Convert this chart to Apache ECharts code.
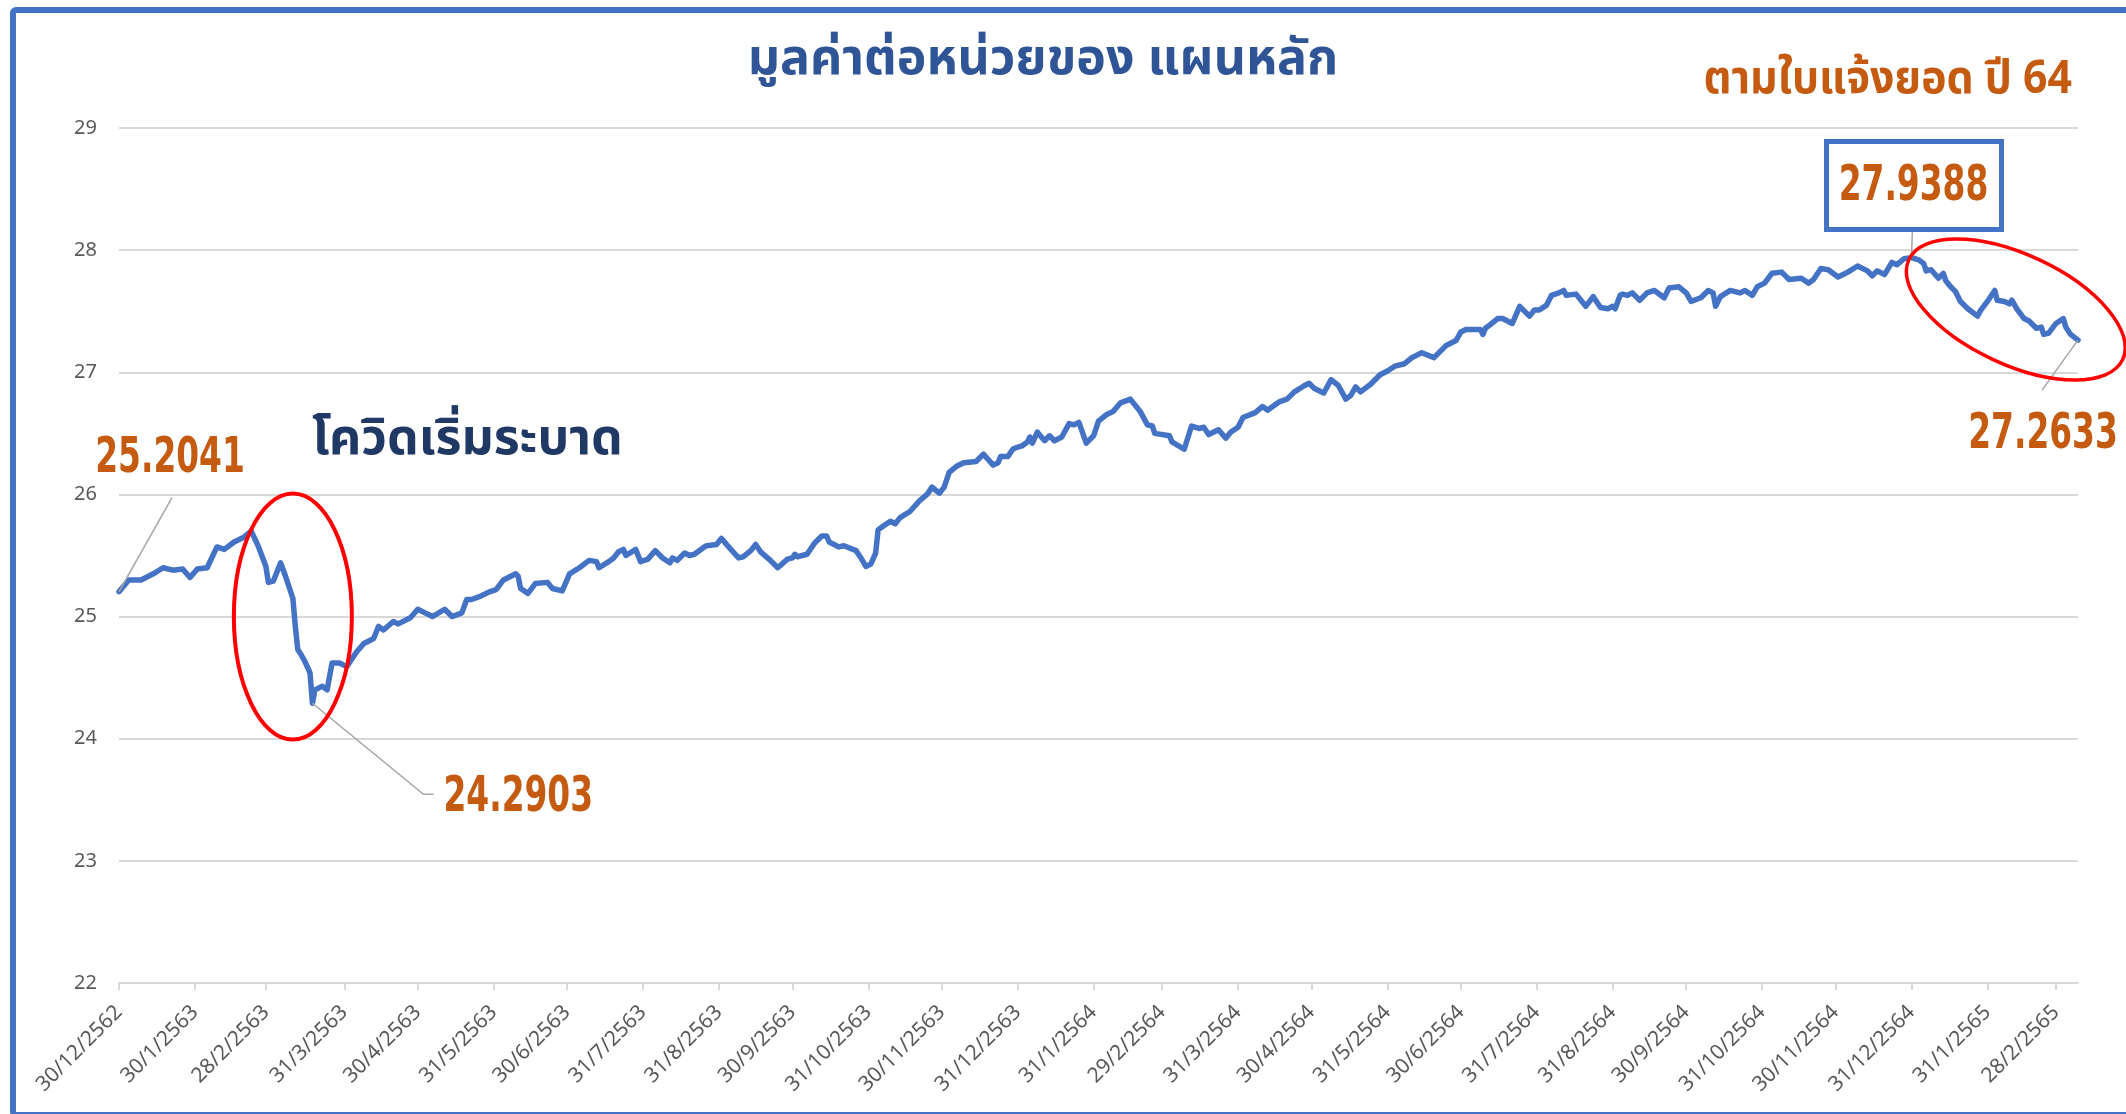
<!DOCTYPE html>
<html>
<head>
<meta charset="utf-8">
<title>มูลค่าต่อหน่วยของ แผนหลัก</title>
<script src="https://cdn.jsdelivr.net/npm/echarts@6.0.0/dist/echarts.min.js"></script>
<style>
  html, body { margin: 0; padding: 0; background: #fff; }
  #navChart { width: 2126px; height: 1114px; }
</style>
</head>
<body>
<div id="navChart"></div>
<script>
// x = days counted from 30/12/2562
var tickDays = [0, 31, 60, 92, 122, 153, 183, 214, 245, 275, 306, 336, 367, 398,
  426, 457, 487, 518, 548, 579, 610, 640, 671, 701, 732, 763, 791];
var tickLabels = ['30/12/2562', '30/1/2563', '28/2/2563', '31/3/2563', '30/4/2563', '31/5/2563',
  '30/6/2563', '31/7/2563', '31/8/2563', '30/9/2563', '31/10/2563', '30/11/2563', '31/12/2563',
  '31/1/2564', '29/2/2564', '31/3/2564', '30/4/2564', '31/5/2564', '30/6/2564', '31/7/2564',
  '31/8/2564', '30/9/2564', '31/10/2564', '30/11/2564', '31/12/2564', '31/1/2565', '28/2/2565'];

var dayOffsets = [
  0, 4, 9, 14, 18, 22, 26, 29, 32, 36,
  40, 43, 47, 51, 54, 57, 60, 61, 63, 66,
  68, 71, 72, 73, 74, 76, 78, 79, 80, 83,
  85, 87, 90, 93, 97, 100, 104, 106, 108, 112,
  114, 119, 122, 125, 128, 133, 136, 140, 142, 144,
  148, 151, 154, 157, 162, 163, 164, 167, 170, 175,
  177, 181, 184, 188, 192, 195, 196, 200, 202, 204,
  206, 207, 211, 213, 216, 219, 222, 225, 226, 228,
  231, 233, 235, 239, 240, 244, 246, 249, 253, 255,
  258, 260, 262, 266, 269, 273, 275, 276, 277, 281,
  284, 287, 289, 290, 294, 296, 301, 303, 305, 307,
  309, 310, 312, 315, 317, 319, 323, 327, 330, 332,
  335, 337, 339, 342, 345, 350, 353, 357, 359, 360,
  363, 365, 366, 369, 371, 372, 373, 375, 378, 380,
  382, 385, 388, 390, 392, 395, 398, 400, 403, 406,
  409, 413, 417, 420, 422, 423, 429, 430, 435, 438,
  441, 443, 445, 449, 452, 454, 457, 459, 464, 467,
  469, 474, 477, 480, 484, 486, 488, 492, 495, 498,
  501, 503, 505, 507, 511, 515, 518, 521, 525, 528,
  532, 537, 542, 546, 548, 550, 556, 557, 558, 560,
  563, 565, 569, 572, 576, 578, 580, 583, 585, 588,
  590, 591, 595, 599, 602, 605, 608, 610, 611, 613,
  614, 616, 618, 621, 624, 627, 631, 633, 637, 640,
  642, 646, 649, 651, 652, 654, 658, 662, 664, 667,
  669, 672, 675, 679, 682, 687, 690, 692, 695, 698,
  702, 706, 710, 714, 716, 718, 721, 724, 726, 729,
  732, 735, 737, 738, 740, 743, 745, 746, 748, 750,
  752, 755, 759, 760, 763, 766, 767, 770, 772, 773,
  775, 778, 780, 783, 785, 786, 788, 791, 794, 795,
  797, 800
];
var navValues = [
  25.204, 25.30, 25.30, 25.35, 25.40, 25.38, 25.39, 25.32, 25.39, 25.40,
  25.57, 25.55, 25.61, 25.65, 25.70, 25.57, 25.41, 25.28, 25.29, 25.44,
  25.33, 25.15, 24.92, 24.73, 24.70, 24.63, 24.54, 24.2903, 24.40, 24.43,
  24.40, 24.62, 24.62, 24.59, 24.71, 24.78, 24.82, 24.92, 24.89, 24.96,
  24.94, 24.99, 25.06, 25.03, 25.00, 25.06, 25.00, 25.03, 25.14, 25.14,
  25.17, 25.20, 25.22, 25.30, 25.35, 25.33, 25.23, 25.19, 25.27, 25.28,
  25.23, 25.21, 25.35, 25.40, 25.46, 25.45, 25.40, 25.45, 25.48, 25.53,
  25.55, 25.50, 25.55, 25.45, 25.47, 25.54, 25.48, 25.44, 25.48, 25.46,
  25.52, 25.50, 25.51, 25.57, 25.58, 25.59, 25.64, 25.57, 25.48, 25.49,
  25.54, 25.59, 25.53, 25.46, 25.40, 25.47, 25.48, 25.51, 25.49, 25.51,
  25.60, 25.66, 25.66, 25.61, 25.57, 25.58, 25.54, 25.48, 25.41, 25.43,
  25.52, 25.71, 25.74, 25.78, 25.76, 25.81, 25.86, 25.95, 26.00, 26.06,
  26.01, 26.06, 26.18, 26.23, 26.26, 26.27, 26.33, 26.24, 26.26, 26.31,
  26.31, 26.37, 26.38, 26.40, 26.43, 26.47, 26.42, 26.51, 26.44, 26.48,
  26.44, 26.47, 26.58, 26.57, 26.59, 26.42, 26.48, 26.60, 26.65, 26.68,
  26.75, 26.78, 26.68, 26.57, 26.56, 26.50, 26.48, 26.43, 26.37, 26.56,
  26.54, 26.55, 26.49, 26.53, 26.46, 26.51, 26.55, 26.63, 26.67, 26.72,
  26.69, 26.76, 26.78, 26.84, 26.89, 26.91, 26.87, 26.83, 26.94, 26.89,
  26.78, 26.81, 26.88, 26.84, 26.90, 26.98, 27.01, 27.05, 27.07, 27.12,
  27.16, 27.12, 27.22, 27.26, 27.33, 27.35, 27.35, 27.31, 27.36, 27.39,
  27.44, 27.44, 27.40, 27.54, 27.46, 27.51, 27.51, 27.55, 27.63, 27.65,
  27.67, 27.63, 27.64, 27.54, 27.62, 27.53, 27.52, 27.54, 27.52, 27.63,
  27.64, 27.63, 27.65, 27.59, 27.65, 27.67, 27.61, 27.69, 27.70, 27.65,
  27.58, 27.61, 27.67, 27.65, 27.54, 27.62, 27.67, 27.65, 27.67, 27.63,
  27.70, 27.73, 27.81, 27.82, 27.76, 27.77, 27.73, 27.76, 27.85, 27.84,
  27.78, 27.82, 27.87, 27.83, 27.79, 27.83, 27.80, 27.90, 27.88, 27.93,
  27.9388, 27.92, 27.89, 27.83, 27.84, 27.77, 27.81, 27.75, 27.70, 27.66,
  27.58, 27.52, 27.46, 27.50, 27.58, 27.67, 27.59, 27.58, 27.56, 27.59,
  27.52, 27.44, 27.42, 27.36, 27.37, 27.31, 27.32, 27.40, 27.44, 27.37,
  27.31, 27.2633
];

// start, covid low, peak, latest
var calloutDays = [0, 79, 732, 800];
var calloutValues = [25.2041, 24.2903, 27.9388, 27.2633];

var thaiFont = "'Noto Sans Thai', 'Noto Sans Thai UI', 'Noto Looped Thai', 'Garuda', 'Loma', 'Noto Sans', sans-serif";
var numFont = "'Liberation Sans Narrow', 'DejaVu Sans Condensed', 'Liberation Sans', sans-serif";
var axisFont = "'Noto Sans', 'Liberation Sans', sans-serif";

var chartDom = document.getElementById('navChart');
var navChart = echarts.init(chartDom, null, { renderer: 'canvas' });

var seriesData = dayOffsets.map(function (d, i) { return [d, navValues[i]]; });

var option = {
  animation: false,
  backgroundColor: '#ffffff',
  grid: { left: 119, right: 48, top: 128, bottom: 131, containLabel: false },
  xAxis: {
    type: 'value',
    min: 0,
    max: 800,
    splitLine: { show: false },
    axisLine: { show: true, lineStyle: { color: '#d9d9d9', width: 2 } },
    axisTick: {
      show: true,
      customValues: tickDays,
      length: 7,
      lineStyle: { color: '#d9d9d9', width: 2 }
    },
    axisLabel: {
      customValues: tickDays,
      rotate: 45,
      margin: 26,
      fontSize: 21,
      fontFamily: axisFont,
      color: '#595959',
      formatter: function (v) {
        var i = tickDays.indexOf(v);
        return i >= 0 ? tickLabels[i] : '';
      }
    }
  },
  yAxis: {
    type: 'value',
    min: 22,
    max: 29,
    interval: 1,
    axisLine: { show: false },
    axisTick: { show: false },
    splitLine: { lineStyle: { color: '#d9d9d9', width: 2 } },
    axisLabel: { fontSize: 20, fontFamily: axisFont, color: '#595959', margin: 22 }
  },
  series: [
    {
      name: 'มูลค่าต่อหน่วย',
      type: 'line',
      data: seriesData,
      showSymbol: false,
      symbol: 'none',
      lineStyle: { color: '#4472C4', width: 5.5, cap: 'round', join: 'round' },
      z: 3
    }
  ]
};

option && navChart.setOption(option);

function toPx(d, v) {
  return navChart.convertToPixel({ xAxisIndex: 0, yAxisIndex: 0 }, [d, v]);
}

function buildGraphics() {
  var items = [];
  var leaderStyle = { stroke: '#a6a6a6', lineWidth: 1.5, fill: null };
  // condensed bold figures like the original callouts
  var numText = function (x, y, txt, align) {
    return {
      type: 'text', x: x, y: y + 4, z: 20, scaleX: 0.745,
      style: {
        text: txt, fill: '#C55A11', font: 'bold 49px ' + numFont,
        align: align || 'center', verticalAlign: 'middle'
      }
    };
  };

  // outer frame
  items.push({
    type: 'rect', z: 30,
    shape: { x: 13, y: 10, width: 2200, height: 1105, r: 3 },
    style: { fill: null, stroke: '#4472C4', lineWidth: 6 }
  });

  // headings
  items.push({
    type: 'text', x: 1043, y: 64, z: 20,
    style: { text: 'มูลค่าต่อหน่วยของ แผนหลัก', fill: '#2F5597', font: 'bold 50px ' + thaiFont, align: 'center', verticalAlign: 'middle' }
  });
  items.push({
    type: 'text', x: 2072, y: 84, z: 20, scaleX: 0.93,
    style: { text: 'ตามใบแจ้งยอด ปี 64', fill: '#C55A11', font: 'bold 46px ' + thaiFont, align: 'right', verticalAlign: 'middle' }
  });
  items.push({
    type: 'text', x: 312, y: 444, z: 20,
    style: { text: 'โควิดเริ่มระบาด', fill: '#203864', font: 'bold 50px ' + thaiFont, align: 'left', verticalAlign: 'middle' }
  });

  // red circles
  var c1 = toPx(71, 25);
  items.push({
    type: 'ellipse', z: 15,
    shape: { cx: c1[0], cy: c1[1], rx: 59, ry: 123 },
    style: { fill: null, stroke: '#FF0000', lineWidth: 4 }
  });
  var c2 = toPx(774.6, 27.514);
  items.push({
    type: 'ellipse', z: 15, x: c2[0], y: c2[1], rotation: -25 * Math.PI / 180,
    shape: { cx: 0, cy: 0, rx: 118, ry: 55 },
    style: { fill: null, stroke: '#FF0000', lineWidth: 3.5 }
  });

  var p0 = toPx(calloutDays[0], calloutValues[0]);
  var p1 = toPx(calloutDays[1], calloutValues[1]);
  var p2 = toPx(calloutDays[2], calloutValues[2]);
  var p3 = toPx(calloutDays[3], calloutValues[3]);

  // 25.2041
  items.push({ type: 'polyline', z: 10, shape: { points: [p0, [p0[0] + 53, p0[1] - 94]] }, style: leaderStyle });
  items.push(numText(p0[0] + 51, p0[1] - 136, calloutValues[0].toFixed(4)));

  // 24.2903
  items.push({ type: 'polyline', z: 10, shape: { points: [p1, [p1[0] + 111, p1[1] + 91], [p1[0] + 121, p1[1] + 91]] }, style: leaderStyle });
  items.push(numText(p1[0] + 131, p1[1] + 91, calloutValues[1].toFixed(4), 'left'));

  // 27.9388 boxed
  items.push({ type: 'polyline', z: 10, shape: { points: [p2, [p2[0] + 1, p2[1] - 30]] }, style: leaderStyle });
  items.push({
    type: 'rect', z: 18,
    shape: { x: p2[0] - 85, y: p2[1] - 116, width: 175, height: 88 },
    style: { fill: '#ffffff', stroke: '#4472C4', lineWidth: 5 }
  });
  items.push(numText(p2[0] + 2, p2[1] - 74, calloutValues[2].toFixed(4)));

  // 27.2633
  items.push({ type: 'polyline', z: 10, shape: { points: [p3, [p3[0] - 36, p3[1] + 50]] }, style: leaderStyle });
  items.push(numText(p3[0] - 35, p3[1] + 91, calloutValues[3].toFixed(4)));

  navChart.setOption({ graphic: { elements: items } });
}

buildGraphics();
</script>
</body>
</html>
